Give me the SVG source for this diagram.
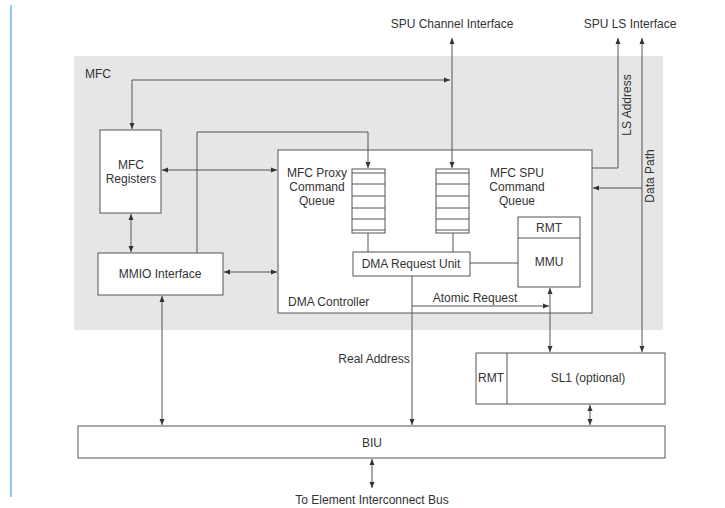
<svg xmlns="http://www.w3.org/2000/svg" width="725" height="508" viewBox="0 0 725 508">
<style>
.box{fill:#fff;stroke:#555;stroke-width:1}
.ln{fill:none;stroke:#555;stroke-width:1}
.a{marker-end:url(#ah)}
.b{marker-start:url(#ah);marker-end:url(#ah)}
text{font-family:"Liberation Sans",Arial,sans-serif;font-size:12px;fill:#333;text-anchor:middle}
</style>
<defs>
<marker id="ah" markerWidth="6" markerHeight="6" refX="6" refY="3" orient="auto-start-reverse" markerUnits="userSpaceOnUse">
<path d="M0,0.5 L6,3 L0,5.5 z" fill="#333"/>
</marker>
</defs>
<rect width="725" height="508" fill="#fff"/>
<line x1="11" y1="5" x2="11" y2="497" stroke="#8cc8ff" stroke-width="2"/>
<g id="mfc">
<rect x="74" y="56" width="589" height="274" fill="#e6e6e6"/>
<text x="85" y="78" style="text-anchor:start">MFC</text>
</g>
<g id="dma-controller">
<rect class="box" x="278" y="150" width="314" height="163"/>
<text x="288" y="306" style="text-anchor:start">DMA Controller</text>
</g>
<g id="mfc-registers">
<rect class="box" x="100" y="130" width="61" height="83"/>
<text x="131" y="169">MFC</text>
<text x="131" y="183">Registers</text>
</g>
<g id="mmio-interface">
<rect class="box" x="98" y="253" width="125" height="42"/>
<text x="160" y="278">MMIO Interface</text>
</g>
<g id="proxy-queue">
<text x="317" y="177">MFC Proxy</text>
<text x="317" y="191">Command</text>
<text x="317" y="205">Queue</text>
<rect class="box" x="352" y="169" width="33" height="64"/>
<path class="ln" d="M352,173H385M352,184H385M352,196H385M352,208H385M352,219H385M352,230H385"/>
</g>
<g id="spu-queue">
<text x="517" y="177">MFC SPU</text>
<text x="517" y="191">Command</text>
<text x="517" y="205">Queue</text>
<rect class="box" x="436" y="169" width="33" height="64"/>
<path class="ln" d="M436,173H469M436,184H469M436,196H469M436,208H469M436,219H469M436,230H469"/>
</g>
<g id="dma-request-unit">
<rect class="box" x="353" y="252" width="117" height="24"/>
<text x="411" y="268">DMA Request Unit</text>
</g>
<g id="mmu">
<rect class="box" x="518" y="217" width="62" height="70"/>
<line class="ln" x1="518" y1="238" x2="580" y2="238"/>
<text x="549" y="232">RMT</text>
<text x="549" y="266">MMU</text>
</g>
<g id="sl1">
<rect class="box" x="476" y="353" width="189" height="51"/>
<line class="ln" x1="507" y1="353" x2="507" y2="404"/>
<text x="491" y="382">RMT</text>
<text x="588" y="382">SL1 (optional)</text>
</g>
<g id="biu">
<rect class="box" x="78" y="426" width="587" height="32"/>
<text x="372" y="447">BIU</text>
</g>
<g id="labels">
<text x="452" y="28">SPU Channel Interface</text>
<text x="630" y="28">SPU LS Interface</text>
<text x="372" y="504">To Element Interconnect Bus</text>
<text x="374" y="363">Real Address</text>
<text x="475" y="302">Atomic Request</text>
<text transform="translate(631,105) rotate(-90)">LS Address</text>
<text transform="translate(654,176) rotate(-90)">Data Path</text>
</g>
<g id="connectors">
<polyline class="ln b" points="132,129 132,80 450,80"/>
<line class="ln b" x1="452" y1="38" x2="452" y2="168"/>
<polyline class="ln a" points="592,168 618,168 618,38"/>
<line class="ln b" x1="642" y1="38" x2="642" y2="352"/>
<line class="ln a" x1="642" y1="188" x2="593" y2="188"/>
<line class="ln b" x1="162" y1="170" x2="277" y2="170"/>
<polyline class="ln a" points="197,253 197,132 368,132 368,168"/>
<line class="ln" x1="368" y1="233" x2="368" y2="252"/>
<line class="ln" x1="453" y1="233" x2="453" y2="252"/>
<line class="ln" x1="470" y1="263" x2="518" y2="263"/>
<line class="ln b" x1="131" y1="214" x2="131" y2="252"/>
<line class="ln b" x1="224" y1="272" x2="277" y2="272"/>
<line class="ln b" x1="162" y1="296" x2="162" y2="425"/>
<line class="ln a" x1="412" y1="276" x2="412" y2="425"/>
<line class="ln a" x1="412" y1="306" x2="549" y2="306"/>
<line class="ln b" x1="550" y1="288" x2="550" y2="352"/>
<line class="ln b" x1="590" y1="405" x2="590" y2="425"/>
<line class="ln b" x1="372" y1="459" x2="372" y2="488"/>
</g>
</svg>
